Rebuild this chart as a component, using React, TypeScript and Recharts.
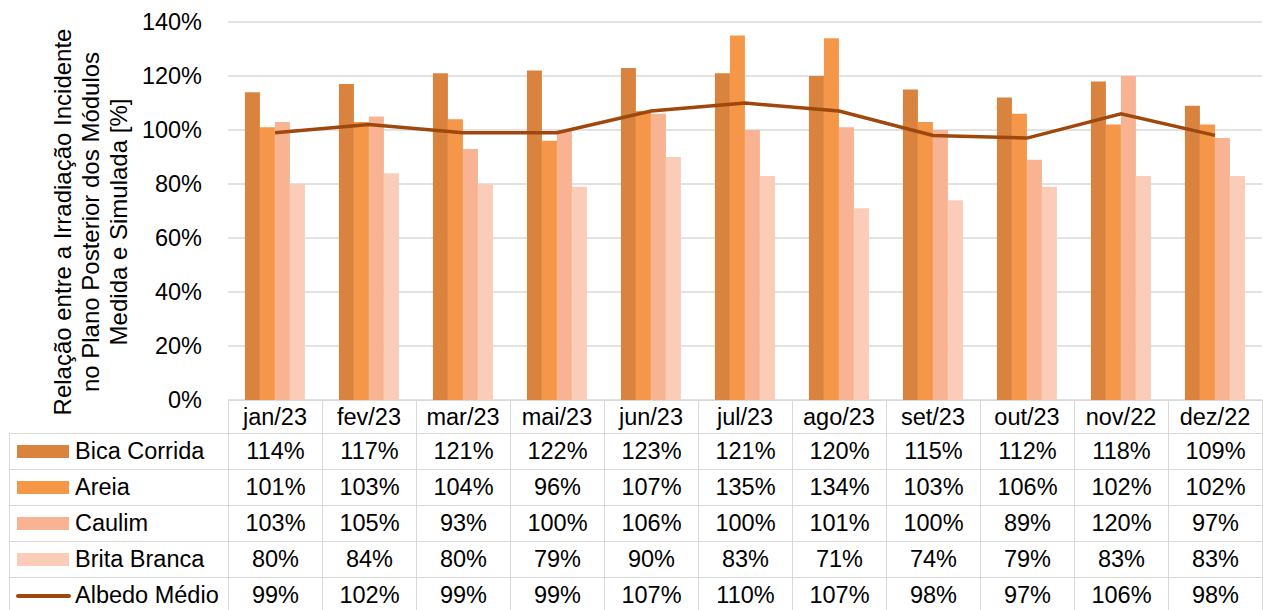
import React from 'react';
import { ComposedChart, Bar, Line, XAxis, YAxis, CartesianGrid } from 'recharts';

const MONTHS = ['jan/23', 'fev/23', 'mar/23', 'mai/23', 'jun/23', 'jul/23', 'ago/23', 'set/23', 'out/23', 'nov/22', 'dez/22'];
const BICA_CORRIDA = [114, 117, 121, 122, 123, 121, 120, 115, 112, 118, 109];
const AREIA = [101, 103, 104, 96, 107, 135, 134, 103, 106, 102, 102];
const CAULIM = [103, 105, 93, 100, 106, 100, 101, 100, 89, 120, 97];
const BRITA_BRANCA = [80, 84, 80, 79, 90, 83, 71, 74, 79, 83, 83];
const ALBEDO_MEDIO = [99, 102, 99, 99, 107, 110, 107, 98, 97, 106, 98];
const Y_TICKS = [0, 20, 40, 60, 80, 100, 120, 140];

const SERIES = [
  { key: 'bica', name: 'Bica Corrida', color: '#D9833F', values: BICA_CORRIDA, kind: 'bar' },
  { key: 'areia', name: 'Areia', color: '#F59748', values: AREIA, kind: 'bar' },
  { key: 'caulim', name: 'Caulim', color: '#F8B492', values: CAULIM, kind: 'bar' },
  { key: 'brita', name: 'Brita Branca', color: '#FBCDB9', values: BRITA_BRANCA, kind: 'bar' },
  { key: 'albedo', name: 'Albedo Médio', color: '#9E480E', values: ALBEDO_MEDIO, kind: 'line' },
];

const data = MONTHS.map((month, i) => {
  const row: any = { month };
  SERIES.forEach((s) => { row[s.key] = s.values[i]; });
  return row;
});

const FONT = '"Liberation Sans", Arial, sans-serif';
const GRID = '#D9D9D9';
const FS = 23.5;

// plot box
const PLOT_LEFT = 228;
const COL_W = 94;
const HEADER_TOP = 400;
const HEADER_H = 33;
const ROW_H = 36;
const TABLE_LEFT = 9;

function YTitle(props: any) {
  const { viewBox } = props;
  const cy = viewBox.y + viewBox.height / 2 + 11;
  const lines = [
    'Relação entre a Irradiação Incidente',
    'no Plano Posterior dos Módulos',
    'Medida e Simulada [%]',
  ];
  return (
    <g>
      {lines.map((t, i) => {
        const x = 62 + i * 28;
        return (
          <text
            key={i}
            x={x}
            y={cy}
            transform={`rotate(-90 ${x} ${cy})`}
            textAnchor="middle"
            dominantBaseline="central"
            fontSize={24}
            fontFamily={FONT}
            fill="#000"
          >
            {t}
          </text>
        );
      })}
    </g>
  );
}

const cellBase: React.CSSProperties = {
  position: 'absolute',
  boxSizing: 'border-box',
  border: `1px solid ${GRID}`,
  display: 'flex',
  alignItems: 'center',
  justifyContent: 'center',
  fontFamily: FONT,
  fontSize: FS,
  color: '#000',
  whiteSpace: 'nowrap',
};

export default function App() {
  return (
    <div style={{ position: 'absolute', left: 0, top: 0, width: 1263, height: 610, background: '#fff', overflow: 'hidden' }}>
      <ComposedChart
        width={1263}
        height={HEADER_TOP + HEADER_H}
        data={data}
        margin={{ top: 22, right: 1, left: PLOT_LEFT - 80, bottom: 0 }}
        barGap={0}
        barCategoryGap="18%"
      >
        <CartesianGrid vertical={false} stroke={GRID} strokeWidth={1.5} />
        <XAxis
          dataKey="month"
          axisLine={false}
          tickLine={false}
          tickSize={0}
          tickMargin={8}
          height={HEADER_H}
          interval={0}
          tick={{ fontSize: FS, fontFamily: FONT, fill: '#000' }}
        />
        <YAxis
          width={80}
          domain={[0, 140]}
          ticks={Y_TICKS}
          axisLine={false}
          tickLine={false}
          tickMargin={20}
          tickFormatter={(v) => `${v}%`}
          tick={{ fontSize: FS, fontFamily: FONT, fill: '#000' }}
          label={{ content: <YTitle /> } as any}
        />
        {SERIES.filter((s) => s.kind === 'bar').map((s) => (
          <Bar key={s.key} dataKey={s.key} name={s.name} fill={s.color} isAnimationActive={false} />
        ))}
        {SERIES.filter((s) => s.kind === 'line').map((s) => (
          <Line
            key={s.key}
            type="linear"
            dataKey={s.key}
            name={s.name}
            stroke={s.color}
            strokeWidth={3.5}
            dot={false}
            activeDot={false}
            isAnimationActive={false}
          />
        ))}
      </ComposedChart>

      {/* header row borders */}
      {MONTHS.map((m, c) => (
        <div
          key={`h-${m}`}
          style={{ ...cellBase, left: PLOT_LEFT + c * COL_W, top: HEADER_TOP, width: COL_W + 1, height: HEADER_H + 1 }}
        />
      ))}

      {/* data table */}
      {SERIES.map((s, r) => {
        const top = HEADER_TOP + HEADER_H + r * ROW_H;
        return (
          <React.Fragment key={s.key}>
            <div
              style={{
                ...cellBase,
                left: TABLE_LEFT,
                top,
                width: PLOT_LEFT - TABLE_LEFT + 1,
                height: ROW_H + 1,
                justifyContent: 'flex-start',
              }}
            >
              {s.kind === 'bar' ? (
                <div style={{ width: 52, height: 13, background: s.color, marginLeft: 7, marginRight: 6 }} />
              ) : (
                <div style={{ width: 55, height: 4, background: s.color, borderRadius: 2, marginLeft: 6, marginRight: 4 }} />
              )}
              <span>{s.name}</span>
            </div>
            {s.values.map((v, c) => (
              <div
                key={c}
                style={{ ...cellBase, left: PLOT_LEFT + c * COL_W, top, width: COL_W + 1, height: ROW_H + 1 }}
              >
                {`${v}%`}
              </div>
            ))}
          </React.Fragment>
        );
      })}
    </div>
  );
}
